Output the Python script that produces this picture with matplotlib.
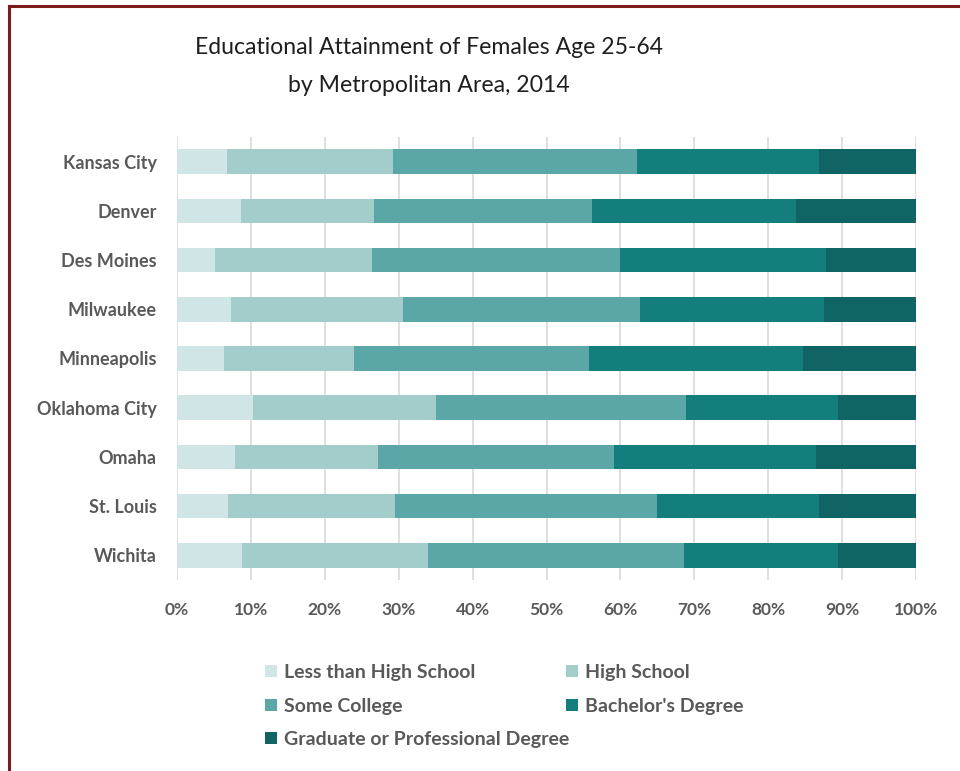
import numpy as np
import matplotlib.pyplot as plt
from matplotlib.lines import Line2D
from matplotlib.patches import Patch

plt.rcParams['font.family'] = ['Lato', 'DejaVu Sans']

cities = ["Kansas City", "Denver", "Des Moines", "Milwaukee", "Minneapolis",
          "Oklahoma City", "Omaha", "St. Louis", "Wichita"]

# shares in percent, one list per attainment level
less_than_hs = [6.8, 8.6, 5.1, 7.3, 6.3, 10.3, 7.9, 6.9, 8.8]
high_school  = [22.4, 18.0, 21.3, 23.3, 17.7, 24.8, 19.3, 22.6, 25.1]
some_college = [33.1, 29.5, 33.5, 32.1, 31.8, 33.8, 32.0, 35.4, 34.7]
bachelors    = [24.6, 27.6, 27.9, 24.8, 28.9, 20.5, 27.3, 22.0, 20.9]
graduate     = [13.1, 16.3, 12.2, 12.5, 15.3, 10.6, 13.5, 13.1, 10.5]

levels = ["Less than High School", "High School", "Some College",
          "Bachelor's Degree", "Graduate or Professional Degree"]
colors = ["#d0e5e6", "#a2cdcb", "#5ba6a6", "#147e7d", "#106564"]

ticks = [0, 10, 20, 30, 40, 50, 60, 70, 80, 90, 100]
tick_labels = [f"{t}%" for t in ticks]

fig = plt.figure(figsize=(9.6, 7.71), dpi=100)
ax = fig.add_axes([177/960, 1 - 580/771, (916 - 177)/960, (580 - 137)/771])

y = np.arange(len(cities))
left = np.zeros(len(cities))
data = [less_than_hs, high_school, some_college, bachelors, graduate]
handles = []
for vals, lab, col in zip(data, levels, colors):
    vals = np.array(vals)
    ax.barh(y, vals, left=left, height=0.5, color=col, edgecolor='none', zorder=3)
    handles.append(Patch(facecolor=col, label=lab))
    left = left + vals

ax.set_xlim(0, 100)
ax.set_ylim(len(cities) - 0.5, -0.5)
ax.set_yticks(y)
ax.set_yticklabels(cities)
ax.set_xticks(ticks)
ax.set_xticklabels(tick_labels)
ax.tick_params(axis='both', length=0, colors='#595959')
ax.tick_params(axis='x', labelsize=12.5, pad=16)
ax.tick_params(axis='y', labelsize=13, pad=14.5)
for lab in ax.get_xticklabels() + ax.get_yticklabels():
    lab.set_fontweight('bold')
ax.grid(axis='x', color='#d9d9d9', linewidth=1.2, zorder=0)
for s in ax.spines.values():
    s.set_visible(False)

fig.text(429/960, 1 - 48/771, "Educational Attainment of Females Age 25-64",
         ha='center', va='center', fontsize=16.6, color='#1f1f1f')
fig.text(429/960, 1 - 86/771, "by Metropolitan Area, 2014",
         ha='center', va='center', fontsize=16.6, color='#1f1f1f')

# legend laid out row by row like the original, as two column legends
leg_kw = dict(loc='upper left', frameon=False, handlelength=0.6, handleheight=0.6,
              handletextpad=0.4, labelspacing=0.85, borderpad=0, borderaxespad=0,
              prop={'size': 14, 'weight': 'bold'}, labelcolor='#595959')
col1 = [0, 2, 4]
col2 = [1, 3]
leg1 = fig.legend([handles[i] for i in col1], [levels[i] for i in col1],
                  bbox_to_anchor=(265/960, 1 - 664/771), **leg_kw)
leg2 = fig.legend([handles[i] for i in col2], [levels[i] for i in col2],
                  bbox_to_anchor=(566/960, 1 - 664/771), **leg_kw)

# maroon frame on top and left edges
fig.add_artist(Line2D([9/960, 1], [1 - 6/771, 1 - 6/771], color='#7a1c1c', linewidth=2.2))
fig.add_artist(Line2D([9/960, 9/960], [0, 1 - 6/771], color='#7a1c1c', linewidth=2.2))

fig.savefig("out.png", dpi=100)
